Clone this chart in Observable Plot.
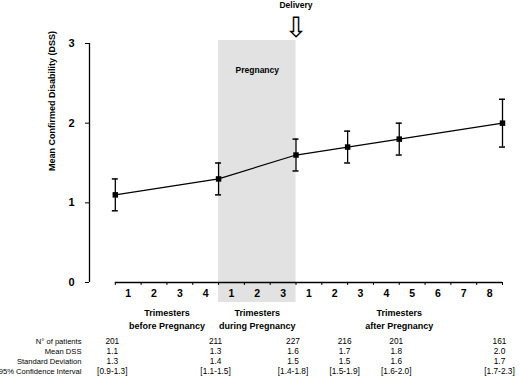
<!DOCTYPE html>
<html><head><meta charset="utf-8">
<script src="https://cdn.jsdelivr.net/npm/d3@7"></script>
<script src="https://cdn.jsdelivr.net/npm/@observablehq/plot@0.6"></script>
<style>html,body{margin:0;padding:0;background:#fff}</style>
</head><body><div id="chart"></div>
<script>
// ---- data ----
const pointPos = [0, 4, 7, 9, 11, 15];          // position on the trimester axis
const meanDSS = [1.1, 1.3, 1.6, 1.7, 1.8, 2.0];
const ciLow = [0.9, 1.1, 1.4, 1.5, 1.6, 1.7];
const ciHigh = [1.3, 1.5, 1.8, 1.9, 2.0, 2.3];
const nPatients = [201, 211, 227, 216, 201, 161];
const stdDev = [1.3, 1.4, 1.5, 1.5, 1.6, 1.7];
const tickLabels = ["1","2","3","4","1","2","3","1","2","3","4","5","6","7","8"];
const groupLabels = ["Trimesters\nbefore Pregnancy", "Trimesters\nduring Pregnancy", "Trimesters\nafter Pregnancy"];
const groupCounts = [4, 3, 8];
const rowLabels = ["N° of patients", "Mean DSS", "Standard Deviation", "95% Confidence Interval"];
const yTicks = [0, 1, 2, 3];
const pregnancySpan = [4, 7];
const deliveryPos = 7;

// ---- derived tables ----
const series = pointPos.map((p, i) => ({pos: p, mean: meanDSS[i], lo: ciLow[i], hi: ciHigh[i]}));
const tickData = tickLabels.map((t, i) => ({pos: i + 0.5, label: t}));
let acc = 0;
const groups = groupLabels.map((g, i) => { const c = acc + groupCounts[i] / 2; acc += groupCounts[i]; return {pos: c, label: g}; });
const nBounds = d3.sum(groupCounts);
const fmt1 = d3.format(".1f");
const rowValues = [
  nPatients.map(String),
  meanDSS.map(fmt1),
  stdDev.map(fmt1),
  ciLow.map((l, i) => `[${fmt1(l)}-${fmt1(ciHigh[i])}]`)
];

const FONT = "Liberation Sans, Arial, sans-serif";

const tableMarks = rowLabels.flatMap((label, r) => [
  Plot.text([label], {x: -1, y: 0, dx: -8, dy: 59 + r * 10, textAnchor: "end", fontSize: 7.6}),
  Plot.text(rowValues[r].map((v, j) => ({pos: pointPos[j], text: v})), {x: "pos", y: 0, text: "text", dx: -3, dy: 59 + r * 10, fontSize: 8.3})
]);

const chart = Plot.plot({
  width: 520,
  height: 377,
  marginLeft: 89,
  marginRight: 18,
  marginTop: 43,
  marginBottom: 95,
  style: {fontFamily: FONT, background: "#fff", color: "#000", overflow: "visible"},
  x: {domain: [-1, nBounds], axis: null},
  y: {domain: [0, 3], axis: null},
  marks: [
    Plot.rect([pregnancySpan], {x1: d => d[0], x2: d => d[1], y1: 0, y2: 3, fill: "#e2e2e2", insetTop: -3, insetBottom: -20}),
    // y axis
    Plot.ruleX([-1], {y1: 0, y2: 3, stroke: "#000", strokeWidth: 1.3}),
    Plot.axisY({ticks: yTicks, tickSize: 4, tickPadding: 11, fontSize: 11, fontWeight: "bold", label: null, tickFormat: d3.format("d")}),
    Plot.text(["Mean Confirmed Disability (DSS)"], {frameAnchor: "left", rotate: -90, dx: -37, dy: 8, fontSize: 9, fontWeight: "bold"}),
    // x axis
    Plot.ruleY([0], {x1: 0, x2: nBounds, stroke: "#000", strokeWidth: 1.3}),
    Plot.axisX({ticks: d3.range(0, nBounds + 1), tickSize: 3, tickFormat: () => "", label: null}),
    Plot.text(tickData, {x: "pos", y: 0, text: "label", dy: 11, fontSize: 10.5, fontWeight: "bold"}),
    Plot.text(groups, {x: "pos", y: 0, text: "label", dy: 36, fontSize: 9, fontWeight: "bold", lineHeight: 1.45}),
    // annotations
    Plot.text(["Pregnancy"], {x: (pregnancySpan[0] + pregnancySpan[1]) / 2, y: 3, dy: 27, fontSize: 8.5, fontWeight: "bold"}),
    Plot.text(["Delivery"], {x: deliveryPos, y: 3, dy: -38, fontSize: 8.5, fontWeight: "bold"}),
    Plot.text(["⇩"], {x: deliveryPos, y: 3, dy: -15, fontSize: 28, fontFamily: "DejaVu Sans"}),
    // data
    Plot.ruleX(series, {x: "pos", y1: "lo", y2: "hi", stroke: "#000", strokeWidth: 1.3}),
    Plot.ruleY(series, {x1: "pos", x2: "pos", y: "lo", insetLeft: -3, insetRight: -3, stroke: "#000", strokeWidth: 1.5}),
    Plot.ruleY(series, {x1: "pos", x2: "pos", y: "hi", insetLeft: -3, insetRight: -3, stroke: "#000", strokeWidth: 1.5}),
    Plot.line(series, {x: "pos", y: "mean", stroke: "#000", strokeWidth: 1.2}),
    Plot.dot(series, {x: "pos", y: "mean", symbol: "square", r: 3.1, fill: "#000", stroke: null}),
    // table
    ...tableMarks
  ]
});
document.getElementById("chart").append(chart);
</script>
</body></html>
